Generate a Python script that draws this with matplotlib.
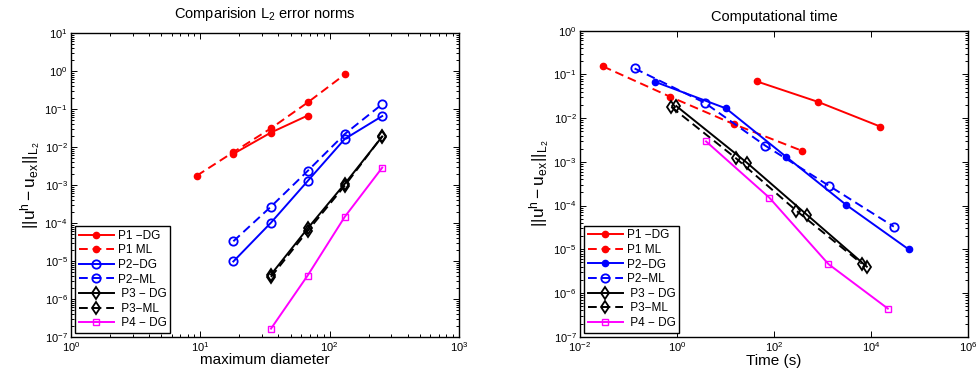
import matplotlib
matplotlib.use('Agg')
import matplotlib.pyplot as plt
import numpy as np
from matplotlib.ticker import LogLocator, NullLocator

plt.rcParams['font.family'] = ['Liberation Sans', 'DejaVu Sans']
plt.rcParams['mathtext.fontset'] = 'custom'
plt.rcParams['mathtext.rm'] = 'Liberation Sans'
plt.rcParams['mathtext.it'] = 'Liberation Sans:italic'

# ---- left panel: error vs maximum diameter ----
h_p1_dg = [18.0, 35.2, 67.6]
e_p1_dg = [6.6e-3, 0.024, 0.067]
h_p1_ml = [9.4, 18.0, 35.2, 67.6, 131]
e_p1_ml = [1.76e-3, 7.3e-3, 0.031, 0.148, 0.81]
h_p2 = [18.0, 35.2, 67.6, 131, 255]
e_p2_dg = [9.7e-6, 1.02e-4, 1.27e-3, 0.0163, 0.065]
e_p2_ml = [3.3e-5, 2.7e-4, 2.34e-3, 0.022, 0.134]
h_p34 = [35.2, 67.6, 131, 255]
e_p3_dg = [4.4e-6, 7.2e-5, 1.08e-3, 0.0188]
e_p3_ml = [3.8e-6, 6.2e-5, 9.6e-4, 0.0192]
e_p4_dg = [1.66e-7, 4.15e-6, 1.46e-4, 2.86e-3]

# ---- right panel: error vs computational time ----
t_p1_dg = [44.9, 801, 15700]
et_p1_dg = [0.069, 0.0237, 6.4e-3]
t_p1_ml = [0.0298, 0.72, 14.8, 375]
et_p1_ml = [0.153, 0.031, 7.3e-3, 1.8e-3]
t_p2_dg = [0.352, 10.3, 178, 3076, 60400]
et_p2_dg = [0.068, 0.0167, 1.31e-3, 1.04e-4, 9.9e-6]
t_p2_ml = [0.134, 3.73, 66.7, 1394, 29600]
et_p2_ml = [0.137, 0.0225, 2.34e-3, 2.8e-4, 3.3e-5]
t_p3_dg = [0.973, 27.9, 475, 8220]
et_p3_dg = [0.0189, 9.5e-4, 6.2e-5, 4.0e-6]
t_p3_ml = [0.766, 16.6, 291, 6470]
et_p3_ml = [0.018, 1.2e-3, 7.6e-5, 4.7e-6]
t_p4_dg = [3.98, 80.6, 1330, 22300]
et_p4_dg = [2.94e-3, 1.51e-4, 4.58e-6, 4.4e-7]

labels = ['P1 \u2212DG', 'P1 ML', 'P2\u2212DG', 'P2\u2212ML',
          ' P3 \u2212 DG', ' P3\u2212ML', ' P4 \u2212 DG']

DASH = (0, (4.5, 2.5))
LW = 1.4
YLABEL = r'$\mathregular{||u^h - u_{ex}||_{L_2}}$'


def style_axes(ax, minor_x=True):
    ax.set_xscale('log')
    ax.set_yscale('log')
    ax.tick_params(which='both', direction='in', top=True, right=True,
                   labelsize=8, width=0.7, pad=2.5)
    ax.tick_params(which='major', length=4)
    ax.tick_params(which='minor', length=2)
    ax.yaxis.set_major_locator(LogLocator(base=10, numticks=20))
    ax.yaxis.set_minor_locator(LogLocator(base=10, subs=np.arange(2, 10), numticks=20))
    if not minor_x:
        ax.xaxis.set_minor_locator(NullLocator())
    for sp in ax.spines.values():
        sp.set_linewidth(1.0)


def add_legend(ax):
    leg = ax.legend(loc='lower left', fontsize=8.5, handlelength=3.0, labelspacing=0.22,
                    handletextpad=0.3, borderpad=0.3, borderaxespad=0.35,
                    fancybox=False, framealpha=1, edgecolor='black')
    leg.get_frame().set_linewidth(1.0)


fig = plt.figure(figsize=(9.78, 3.81), dpi=100)

# left
ax1 = fig.add_axes([0.0726, 0.1155, 0.3967, 0.798])
ax1.plot(h_p1_dg, e_p1_dg, '-', color='red', lw=LW, marker='o', ms=4.5, label=labels[0])
ax1.plot(h_p1_ml, e_p1_ml, linestyle=DASH, color='red', lw=LW, marker='o', ms=4.5, label=labels[1])
ax1.plot(h_p2, e_p2_dg, '-', color='blue', lw=LW, marker='o', ms=6, mfc='none', mew=1.3, label=labels[2])
ax1.plot(h_p2, e_p2_ml, linestyle=DASH, color='blue', lw=LW, marker='o', ms=6, mfc='none', mew=1.3, label=labels[3])
ax1.plot(h_p34, e_p3_dg, '-', color='black', lw=LW, marker='d', ms=6, mfc='none', mew=1.3, label=labels[4])
ax1.plot(h_p34, e_p3_ml, linestyle=DASH, color='black', lw=LW, marker='d', ms=6, mfc='none', mew=1.3, label=labels[5])
ax1.plot(h_p34, e_p4_dg, '-', color='magenta', lw=LW, marker='s', ms=5, mfc='none', mew=1.0, label=labels[6])
ax1.set_xlim(1, 1e3)
ax1.set_ylim(1e-7, 1e1)
style_axes(ax1)
ax1.set_title(r'Comparision L$\mathregular{_2}$ error norms', fontsize=10.5, pad=11)
ax1.set_xlabel('maximum diameter', fontsize=11, labelpad=-1)
ax1.set_ylabel(YLABEL, fontsize=12.5, labelpad=1)
add_legend(ax1)

# right
ax2 = fig.add_axes([0.593, 0.1163, 0.3967, 0.803])
ax2.plot(t_p1_dg, et_p1_dg, '-', color='red', lw=LW, marker='o', ms=4.5, label=labels[0])
ax2.plot(t_p1_ml, et_p1_ml, linestyle=DASH, color='red', lw=LW, marker='o', ms=4.5, label=labels[1])
ax2.plot(t_p2_dg, et_p2_dg, '-', color='blue', lw=LW, marker='o', ms=4.5, label=labels[2])
ax2.plot(t_p2_ml, et_p2_ml, linestyle=DASH, color='blue', lw=LW, marker='o', ms=6, mfc='none', mew=1.3, label=labels[3])
ax2.plot(t_p3_dg, et_p3_dg, '-', color='black', lw=LW, marker='d', ms=6, mfc='none', mew=1.3, label=labels[4])
ax2.plot(t_p3_ml, et_p3_ml, linestyle=DASH, color='black', lw=LW, marker='d', ms=6, mfc='none', mew=1.3, label=labels[5])
ax2.plot(t_p4_dg, et_p4_dg, '-', color='magenta', lw=LW, marker='s', ms=5, mfc='none', mew=1.0, label=labels[6])
ax2.set_xlim(1e-2, 1e6)
ax2.set_ylim(1e-7, 1e0)
style_axes(ax2, minor_x=False)
ax2.xaxis.set_major_locator(LogLocator(base=100, numticks=10))
ax2.set_title('Computational time', fontsize=10.5, pad=7)
ax2.set_xlabel('Time (s)', fontsize=11, labelpad=0)
ax2.set_ylabel(YLABEL, fontsize=12.5, labelpad=1)
add_legend(ax2)

fig.savefig('out.png', dpi=100)
